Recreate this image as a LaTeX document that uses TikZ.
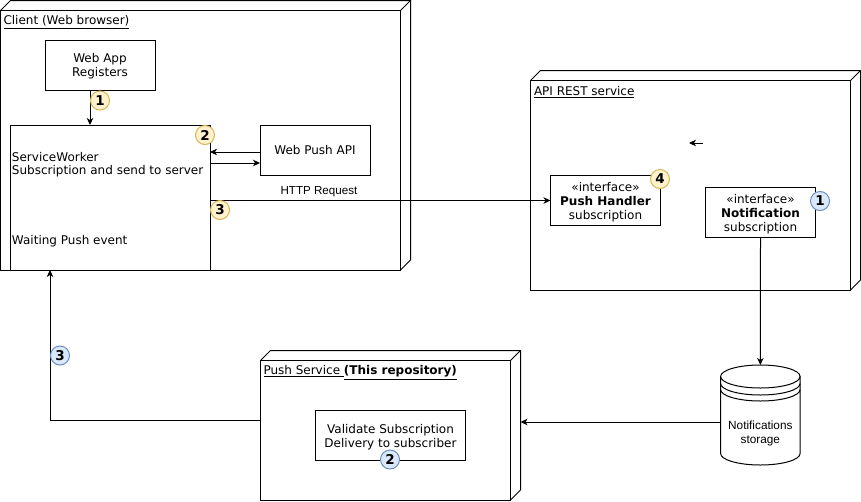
\documentclass[tikz,border=0pt]{standalone}
\usepackage{fontspec}
\setmainfont{DejaVu Sans}
\newfontfamily\arialf{Liberation Sans}
\usetikzlibrary{arrows.meta,calc}
\definecolor{ybfill}{HTML}{FFF2CC}
\definecolor{ybdraw}{HTML}{D6B656}
\definecolor{bbfill}{HTML}{DAE8FC}
\definecolor{bbdraw}{HTML}{6C8EBF}
\tikzset{
  every node/.style={outer sep=0pt},
  front/.style={draw, line width=1pt, fill=white, inner sep=0pt, anchor=north west},
  depth/.style={draw, line width=1pt},
  plainbox/.style={draw, line width=1pt, fill=white, inner sep=0pt, align=center,
    font=\fontsize{12}{14}\selectfont, anchor=north west, text depth=0pt},
  lbl/.style={anchor=west, inner sep=0pt, font=\fontsize{12}{14}\selectfont},
  ybadge/.style={circle, draw=ybdraw, fill=ybfill, line width=1pt, minimum size=19pt,
    inner sep=0pt, font=\bfseries\fontsize{13.5}{13.5}\selectfont},
  bbadge/.style={circle, draw=bbdraw, fill=bbfill, line width=1pt, minimum size=19pt,
    inner sep=0pt, font=\bfseries\fontsize{13.5}{13.5}\selectfont},
  arr/.style={line width=1pt, -{Stealth[length=7pt,width=6.5pt,inset=2pt]}},
  conn/.style={line width=1pt},
}
\begin{document}
\begin{tikzpicture}[x=1pt,y=-1pt]
\useasboundingbox (0,0) rectangle (861,501);

% ---------- Client node ----------
\node[front, minimum width=400pt, minimum height=259.5pt] (client) at (0.5,10.5) {};
\draw[depth] (client.north west) -- ++(10,-10) -| ([shift={(10,-10)}]client.south east) -- (client.south east);
\draw[depth] (client.north east) -- ++(10,-10);
\node[lbl] (clientlbl) at (3.5,22) {\underline{Client (Web browser)}};

\node[plainbox, minimum width=110pt, minimum height=49.5pt] (webapp) at (45,40.5) {Web App\\Registers};
\node[plainbox, minimum width=199.5pt, minimum height=145pt] (sw) at (10.5,125) {};
\node[lbl] (swt1) at (12,157.5) {ServiceWorker};
\node[lbl] (swt2) at (12,171.5) {Subscription and send to server};
\node[lbl] (swt3) at (12,241.5) {Waiting Push event};
\node[plainbox, minimum width=110pt, minimum height=50pt] (wpa) at (260,125) {Web Push API};

% ---------- API REST node ----------
\node[front, minimum width=320pt, minimum height=209.5pt] (api) at (530.5,80.5) {};
\draw[depth] (api.north west) -- ++(10,-10) -| ([shift={(10,-10)}]api.south east) -- (api.south east);
\draw[depth] (api.north east) -- ++(10,-10);
\node[lbl] (apilbl) at (534,92) {\underline{API REST service}};

\node[plainbox, minimum width=110pt, minimum height=50pt] (ph) at (550.5,175.5) {«interface»\\\textbf{Push Handler}\\subscription};
\node[plainbox, minimum width=110pt, minimum height=50pt] (notif) at (705.5,187.5) {«interface»\\\textbf{Notification}\\subscription};

\coordinate (lonet) at (703,143);
\coordinate (loneh) at (689,143);
\draw[arr] (lonet) -- (loneh);

% ---------- Push Service node ----------
\node[front, minimum width=250pt, minimum height=139.5pt] (ps) at (260.5,360.5) {};
\draw[depth] (ps.north west) -- ++(10,-10) -| ([shift={(10,-10)}]ps.south east) -- (ps.south east);
\draw[depth] (ps.north east) -- ++(10,-10);
\coordinate (psback) at ([xshift=10pt]ps.east);
\node[lbl] (pslbl) at (263.5,372.5) {\underline{Push Service }\underline{\textbf{(This repository)}}};

\node[plainbox, minimum width=150pt, minimum height=50pt] (val) at (315.5,410.5) {Validate Subscription\\Delivery to subscriber};

% ---------- Storage cylinder ----------
\node[minimum width=79.5pt, minimum height=100pt, inner sep=0pt] (cyl) at (760.35,415) {};
\draw[line width=1pt, fill=white] ([yshift=-11.5pt]cyl.north west) -- ([yshift=11.5pt]cyl.south west)
   arc[start angle=180, end angle=360, x radius=39.75pt, y radius=11.5pt]
   -- ([yshift=-11.5pt]cyl.north east);
\draw[line width=1pt] ([yshift=-11.5pt]cyl.north) ellipse [x radius=39.75pt, y radius=11.5pt];
\draw[line width=1pt] ([yshift=-18.5pt]cyl.north west) arc[start angle=180, end angle=360, x radius=39.75pt, y radius=11.5pt];
\draw[line width=1pt] ([yshift=-24.5pt]cyl.north west) arc[start angle=180, end angle=360, x radius=39.75pt, y radius=11.5pt];
\node[align=center, inner sep=0pt, font=\arialf\fontsize{11.8}{13.5}\selectfont] (cyltext) at (760.35,433.5) {Notifications\\storage};

% ---------- Connectors ----------
\draw[arr] ([xshift=-10pt]webapp.south) -- ([xshift=-10pt]webapp.south |- sw.north);
\draw[arr] ([yshift=-2pt]wpa.west) -- ([yshift=-2pt]wpa.west -| sw.east);
\draw[arr] ([yshift=-13pt]sw.east |- wpa.west) -- ([yshift=-13pt]wpa.west);
\draw[arr] (ph.west -| sw.east) -- node[pos=0.32, yshift=9pt, inner sep=0pt, font=\arialf\fontsize{11.6}{13}\selectfont] (httplbl) {HTTP Request} (ph.west);
\draw[arr] (notif.south) -- (cyl.north);
\draw[arr] ([yshift=-7pt]cyl.west) -- ([yshift=-7pt]cyl.west -| psback);
\draw[arr] ([yshift=10pt]ps.west) -| ([xshift=39.5pt]sw.south west);

% ---------- Badges ----------
\node[ybadge] (b1) at (100,100.5) {1};
\node[ybadge] (b2) at (205,135) {2};
\node[ybadge] (b3) at (220,210) {3};
\node[ybadge] (b4) at (660,179) {4};
\node[bbadge] (c1) at (820,201) {1};
\node[bbadge] (c2) at (390,459.5) {2};
\node[bbadge] (c3) at (60,355.5) {3};
\end{tikzpicture}
\end{document}
